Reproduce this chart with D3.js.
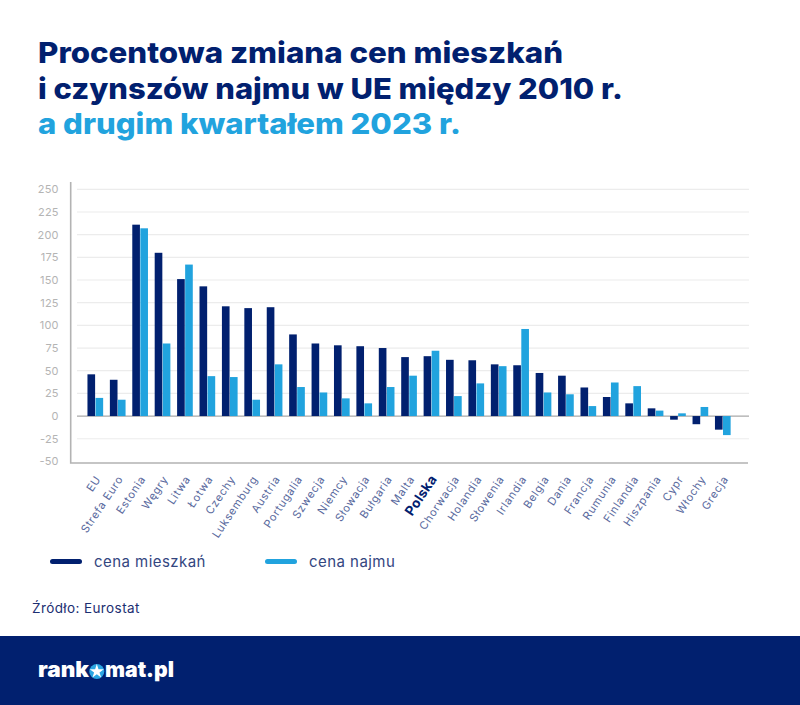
<!DOCTYPE html>
<html lang="pl">
<head>
<meta charset="utf-8">
<script src="https://cdn.jsdelivr.net/npm/d3@7"></script>
<style>
  html, body { margin: 0; padding: 0; background: #fff; }
  svg { display: block; font-family: Inter, "Open Sans", sans-serif; }
</style>
</head>
<body>
<svg id="chart" width="800" height="705"></svg>
<script>
const categories = ['EU', 'Strefa Euro', 'Estonia', 'Węgry', 'Litwa', 'Łotwa', 'Czechy', 'Luksemburg', 'Austria', 'Portugalia', 'Szwecja', 'Niemcy', 'Słowacja', 'Bułgaria', 'Malta', 'Polska', 'Chorwacja', 'Holandia', 'Słowenia', 'Irlandia', 'Belgia', 'Dania', 'Francja', 'Rumunia', 'Finlandia', 'Hiszpania', 'Cypr', 'Włochy', 'Grecja'];
const cenaMieszkan = [46, 40, 211, 180, 151, 143, 121, 119, 120, 90, 80, 78, 77, 75, 65, 66, 62, 61.5, 57, 56, 47.5, 44.5, 31.5, 21, 14, 8.5, -4, -9, -15];
const cenaNajmu = [20, 18, 207, 80, 167, 44, 43, 18, 57, 32, 26, 19.5, 14, 32, 44.5, 72, 22, 36, 55, 96, 26, 24, 11, 37, 33, 6, 3, 10, -21];
const yTicks = [250, 225, 200, 175, 150, 125, 100, 75, 50, 25, 0, -25, -50];
const seriesNames = ['cena mieszkań', 'cena najmu'];
const titleLines = ['Procentowa zmiana cen mieszkań', 'i czynszów najmu w UE między 2010 r.', 'a drugim kwartałem 2023 r.'];

const navy = '#01206f', blue = '#21a3de';
const svg = d3.select('#chart');

const xSc = d3.scaleBand().domain(categories).range([84.1, 734]).paddingInner(0.3).paddingOuter(0.15);
const subSc = d3.scaleBand().domain([0, 1]).range([0, xSc.bandwidth()]).paddingInner(0.05);
const ySc = d3.scaleLinear().domain([-50, 250]).range([461.4, 189.3]);

// title
svg.selectAll('text.title')
  .data(titleLines)
  .join('text')
  .attr('class', 'title')
  .attr('x', 38)
  .attr('y', (d, i) => [63, 99, 134][i])
  .attr('font-size', 29)
  .attr('font-weight', 800)
  .attr('fill', (d, i) => i == 2 ? blue : navy)
  .attr('textLength', (d, i) => [525, 585, 423][i])
  .attr('lengthAdjust', 'spacingAndGlyphs')
  .text(d => d);

// gridlines and y axis
svg.append('g')
  .selectAll('line')
  .data(yTicks)
  .join('line')
  .attr('x1', 77)
  .attr('x2', 749)
  .attr('y1', d => ySc(d))
  .attr('y2', d => ySc(d))
  .attr('stroke', d => d == 0 ? '#a9a9a9' : '#ececec')
  .attr('stroke-width', d => d == -50 ? 0 : 1.2);

const yAxis = svg.append('g')
  .attr('transform', 'translate(70.7,0)')
  .call(d3.axisLeft(ySc).tickValues(yTicks).tickFormat(d => String(d)).tickSize(0).tickPadding(12));
yAxis.select('.domain').remove();
yAxis.selectAll('text')
  .attr('font-family', 'Inter, sans-serif')
  .attr('font-size', 11)
  .attr('letter-spacing', 0.2)
  .attr('fill', '#b4b4b4');

// bars
const groups = svg.append('g')
  .selectAll('g')
  .data(categories)
  .join('g')
  .attr('transform', d => `translate(${xSc(d)},0)`);

[cenaMieszkan, cenaNajmu].forEach((values, s) => {
  groups.append('rect')
    .attr('x', subSc(s))
    .attr('width', subSc.bandwidth())
    .attr('y', (d, i) => ySc(Math.max(0, values[i])))
    .attr('height', (d, i) => Math.abs(ySc(values[i]) - ySc(0)))
    .attr('fill', s == 0 ? navy : blue);
});

// axis frame
svg.append('path')
  .attr('d', 'M70.7,182 V463 H748')
  .attr('fill', 'none')
  .attr('stroke', '#b3b3b3')
  .attr('stroke-width', 1.6);

// x labels
const xAxis = svg.append('g')
  .attr('transform', 'translate(0,463)')
  .call(d3.axisBottom(xSc).tickSize(0));
xAxis.select('.domain').remove();
xAxis.selectAll('text')
  .attr('font-family', 'Inter, sans-serif')
  .attr('font-size', d => d == 'Polska' ? 13.5 : 11)
  .attr('font-weight', d => d == 'Polska' ? 700 : 400)
  .attr('letter-spacing', d => d == 'Polska' ? 0.3 : 0.75)
  .attr('fill', d => d == 'Polska' ? navy : '#5a6a9e')
  .attr('text-anchor', 'end')
  .attr('dy', 0)
  .attr('y', 0)
  .attr('transform', 'translate(6,16) rotate(-56)');

// legend
const legendX = [50, 265];
seriesNames.forEach((name, i) => {
  svg.append('rect')
    .attr('x', legendX[i])
    .attr('y', 559)
    .attr('width', 32)
    .attr('height', 5)
    .attr('rx', 2.5)
    .attr('fill', i == 0 ? navy : blue);
  svg.append('text')
    .attr('x', legendX[i] + 44)
    .attr('y', 567)
    .attr('font-size', 15)
    .attr('letter-spacing', 0.45)
    .attr('fill', '#33467f')
    .text(name);
});

// source
svg.append('text')
  .attr('x', 32)
  .attr('y', 613)
  .attr('font-size', 13.5)
  .attr('letter-spacing', 0.4)
  .attr('fill', '#1c2f72')
  .text('Źródło: Eurostat');

// footer
svg.append('rect')
  .attr('x', 0)
  .attr('y', 636)
  .attr('width', 800)
  .attr('height', 69)
  .attr('fill', navy);

const logoStyle = sel => sel
  .attr('y', 677)
  .attr('font-size', 21)
  .attr('font-weight', 900)
  .attr('fill', '#fff')
  .attr('lengthAdjust', 'spacingAndGlyphs');

svg.append('text').call(logoStyle).attr('x', 38).attr('textLength', 51).text('rank');
svg.append('text').call(logoStyle).attr('x', 105).attr('textLength', 69).text('mat.pl');
svg.append('circle').attr('cx', 96.8).attr('cy', 671.5).attr('r', 7.5).attr('fill', '#2ba6e2');
svg.append('path')
  .attr('transform', 'translate(96.8,671.5)')
  .attr('d', d3.symbol(d3.symbolStar, 62))
  .attr('fill', '#fff');
</script>
</body>
</html>
